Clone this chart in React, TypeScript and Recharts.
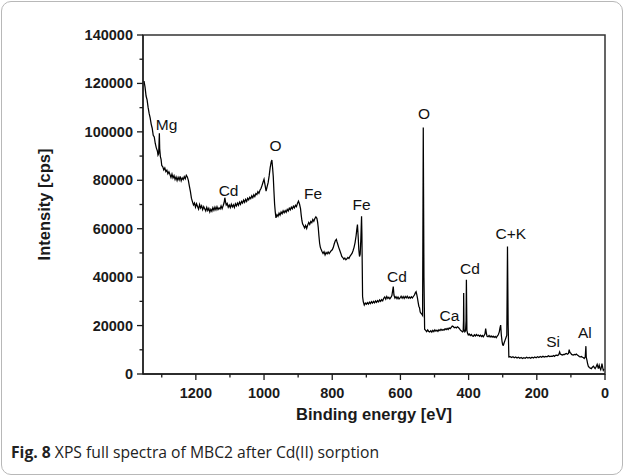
import React from 'react';
import { ComposedChart, Line, Scatter, XAxis, YAxis, ReferenceArea } from 'recharts';

// XPS survey spectrum of MBC2 after Cd(II) sorption: [binding energy (eV), intensity (cps)]
const mgRegion: [number, number][] = [
  [1352, 121000], [1349, 118500], [1346, 114800], [1343, 113200], [1340, 110100], [1337, 107600],
  [1334, 105800], [1331, 103200], [1328, 101500], [1325, 98600], [1322, 97900], [1319, 95200],
  [1316, 93400], [1313, 92200], [1311, 90400], [1309, 91000], [1307, 99400], [1306, 93000],
  [1304, 89800], [1302, 88600], [1300, 86100], [1297, 85600], [1294, 84300], [1291, 85100],
  [1288, 83600], [1285, 84200], [1282, 82700], [1279, 83500], [1276, 82400], [1273, 81200],
  [1270, 82600], [1267, 81000], [1264, 81900], [1261, 80300], [1258, 81400], [1255, 79900],
  [1252, 81200], [1249, 80100], [1246, 81600], [1243, 79800], [1240, 81000], [1237, 80300],
  [1234, 81500], [1231, 80600], [1228, 82100], [1225, 81400], [1222, 80000],
];

const cdMnnRegion: [number, number][] = [
  [1219, 77600], [1216, 75400], [1213, 72600], [1210, 71200], [1207, 69800], [1204, 70600],
  [1201, 68900], [1198, 70300], [1195, 69200], [1192, 68100], [1189, 70000], [1186, 68600],
  [1183, 69500], [1180, 67900], [1177, 69100], [1174, 68200], [1171, 67300], [1168, 68800],
  [1165, 67500], [1162, 68400], [1159, 66900], [1156, 68000], [1153, 67200], [1150, 68700],
  [1147, 67600], [1144, 68900], [1141, 67800], [1138, 69100], [1135, 67900], [1132, 68600],
  [1129, 68100], [1126, 69400], [1123, 68300], [1120, 69500], [1117, 70800], [1115, 72800],
  [1113, 71200], [1111, 69800], [1108, 70400], [1105, 68900], [1102, 69800],
];

const oAugerRegion: [number, number][] = [
  [1099, 68700], [1096, 70100], [1093, 69000], [1090, 69900], [1087, 68800], [1084, 70300],
  [1081, 69400], [1078, 70600], [1075, 69700], [1072, 71000], [1069, 70100], [1066, 71300],
  [1063, 70600], [1060, 71800], [1057, 70900], [1054, 72100], [1051, 71300], [1048, 72600],
  [1045, 71900], [1042, 73000], [1039, 72400], [1036, 73600], [1033, 72800], [1030, 74000],
  [1027, 73300], [1024, 74500], [1021, 74100], [1018, 75300], [1015, 74600], [1012, 75900],
  [1009, 76600], [1006, 77800], [1003, 79200], [1000, 80400], [997, 78000], [994, 75500],
  [991, 77400], [988, 79000], [985, 81800], [982, 85200], [979, 87600], [977, 88400],
  [975, 85300], [973, 81700], [971, 75600], [969, 70100], [967, 66800], [965, 64500],
  [962, 65800], [959, 65100], [956, 66400], [953, 65600], [950, 66900], [947, 66200],
  [944, 67400], [941, 66600], [938, 67500], [935, 66800], [932, 68000], [929, 67300],
  [926, 68500], [923, 67800], [920, 68900], [917, 68200], [914, 69300], [911, 68600],
  [908, 69700], [905, 69100], [902, 70400], [899, 71400], [896, 70200],
];

const feRegion: [number, number][] = [
  [893, 68300], [891, 65600], [889, 63400], [887, 62000], [884, 61200], [881, 60300],
  [878, 61300], [875, 60100], [872, 61500], [869, 62600], [866, 61800], [863, 63000],
  [860, 62500], [857, 63800], [854, 63100], [851, 64200], [848, 64900], [845, 64300],
  [843, 62800], [841, 60500], [839, 57000], [837, 54000], [835, 52400], [833, 51600],
  [830, 50600], [827, 49800], [824, 50500], [821, 49200], [818, 50200], [815, 49600],
  [812, 50400], [809, 49700], [806, 50300], [803, 50900], [800, 51300], [797, 52200],
  [794, 53800], [791, 55000], [788, 55600], [786, 54600], [784, 53700], [781, 52300],
  [778, 51100], [775, 49900], [772, 48600], [769, 48100], [766, 47400], [763, 47900],
  [760, 47200], [757, 47600], [754, 48100], [751, 47700], [748, 48600], [745, 49200],
  [742, 49800], [739, 50900], [736, 52300], [733, 54300], [730, 57100], [728, 59600],
  [726, 61700], [724, 57000], [722, 51300], [720, 48500], [718, 49500], [716, 56000],
  [714, 65100], [713, 58000], [712, 45000], [711, 32000], [709, 29900],
];

const cdMidRegion: [number, number][] = [
  [706, 28500], [703, 29300], [700, 28800], [697, 29500], [694, 28900], [691, 29700],
  [688, 29100], [685, 29900], [682, 29300], [679, 30000], [676, 29400], [673, 30200],
  [670, 29600], [667, 30300], [664, 29800], [661, 30600], [658, 30000], [655, 30700],
  [652, 30200], [649, 31300], [646, 31800], [643, 30900], [640, 32000], [637, 31200],
  [634, 31700], [631, 31000], [628, 31600], [625, 32400], [622, 35200], [621, 36100],
  [619, 32600], [616, 31300], [613, 31900], [610, 31100], [607, 31800], [604, 31000],
  [601, 31400], [598, 32100], [595, 31300], [592, 32000], [589, 31200], [586, 32000],
  [583, 31400], [580, 32100], [577, 31300], [574, 31800], [571, 31300], [568, 31900],
  [565, 31400], [562, 32000], [559, 32600], [556, 33600], [554, 34000], [552, 32800],
  [550, 31300], [548, 29600], [546, 28000], [544, 27400], [542, 25600], [540, 25100],
  [537, 24700], [535, 24200],
];

const o1sRegion: [number, number][] = [
  [533, 101800], [531, 40000], [529, 18500], [526, 18000], [523, 17500], [520, 18200],
  [517, 17600], [514, 17400], [511, 17900], [508, 17300], [505, 18000], [502, 17500],
  [499, 18200], [496, 17700], [493, 18100], [490, 17600], [487, 18300], [484, 17900],
  [481, 18500], [478, 18000], [475, 18400], [472, 18100], [469, 18700], [466, 18300],
  [463, 18800], [460, 18400], [457, 19000], [454, 18700], [451, 19300], [448, 19800],
  [445, 19600], [442, 19100], [439, 19300], [436, 19000], [433, 19500], [430, 19200],
  [427, 18700], [424, 18100], [421, 17800], [418, 17400],
];

const cd3dRegion: [number, number][] = [
  [416, 17600], [415, 22000], [414.5, 33400], [413.5, 18500], [411, 17400], [409, 17800],
  [407.5, 22000], [406.5, 38900], [405, 18000], [403, 16800], [401, 16100], [398, 16500],
  [395, 15900], [392, 16300], [389, 15700], [386, 15600], [383, 16200], [380, 15700],
  [377, 16300], [374, 15800], [371, 16100], [368, 15600], [365, 16000], [362, 15500],
  [359, 15900], [357, 15400], [354, 16000], [352, 16600], [350, 18800], [348, 16900],
  [346, 15600], [343, 15400], [340, 15900], [337, 15300], [334, 15700], [331, 15200],
  [328, 15600], [325, 15100], [322, 15500], [319, 15000], [316, 15600], [313, 16200],
  [310, 17400], [308, 19000], [306, 20200], [304, 16000], [302, 13500], [300, 12000],
  [298, 11900], [296, 12800], [293, 14000], [290, 15200], [288, 16000],
];

const lowRegion: [number, number][] = [
  [286, 52700], [284, 20000], [282, 7050], [278, 7200], [274, 6800], [270, 7100],
  [266, 6700], [262, 7000], [258, 6600], [254, 6900], [250, 6500], [246, 6800],
  [242, 6400], [238, 6700], [234, 6500], [230, 6900], [226, 6600], [222, 6800],
  [218, 6500], [214, 6900], [210, 6600], [206, 7000], [202, 6700], [198, 7100],
  [194, 6800], [190, 7200], [186, 6900], [182, 7300], [178, 7000], [174, 7300],
  [170, 7100], [166, 7500], [162, 7200], [158, 7400], [154, 7300], [151, 7600],
  [148, 7300], [145, 7700], [142, 7800], [139, 7600], [136, 7900], [133, 9100],
  [131, 8200], [128, 8000], [125, 7800], [122, 8100], [119, 8000], [116, 8300],
  [113, 8500], [110, 8200], [107, 8500], [105, 10100], [103, 8900], [101, 8700],
  [98, 8100], [95, 7900], [93, 7800], [90, 8100], [87, 7900], [84, 8200],
  [81, 7800], [78, 7500], [75, 7200], [72, 7050], [69, 7200], [66, 6900],
  [63, 6700], [61, 6400], [58, 7000], [56, 11500], [55, 7000], [53, 5700],
  [51, 4300], [49, 3200], [46, 2700], [43, 2400], [40, 2200], [37, 2800],
  [34, 3200], [31, 2600], [29, 2200], [26, 3000], [23, 4000], [21, 3000],
  [19.5, 2200], [17, 3600], [15, 2600], [12.5, 1800], [10, 3200], [9, 4300],
  [7, 2800], [5, 1500], [3, 2000],
];

// Peak assignments: [label, energy anchor (eV), intensity anchor (cps)]
const peakLabels: [string, number, number][] = [
  ['Mg', 1286, 100700],
  ['Cd', 1104, 73700],
  ['O', 966, 92000],
  ['Fe', 856, 72100],
  ['Fe', 714, 67700],
  ['O', 531, 105300],
  ['Cd', 610, 37800],
  ['Ca', 456, 21700],
  ['Cd', 396, 41400],
  ['C+K', 276, 55900],
  ['Si', 152, 11300],
  ['Al', 59, 14800],
];

const xTicks = [0, 100, 200, 300, 400, 500, 600, 700, 800, 900, 1000, 1100, 1200, 1300];
const yTicks = [
  0, 10000, 20000, 30000, 40000, 50000, 60000, 70000,
  80000, 90000, 100000, 110000, 120000, 130000, 140000,
];

const AXIS_FONT = "'Liberation Sans', Arial, Helvetica, sans-serif";
const CAPTION_FONT = "'Open Sans', 'Noto Sans', sans-serif";
const INK = '#1a1a1a';

const spectrum = [
  ...mgRegion, ...cdMnnRegion, ...oAugerRegion, ...feRegion,
  ...cdMidRegion, ...o1sRegion, ...cd3dRegion, ...lowRegion,
].map(([e, v]) => ({ e, v }));

const labelRows = peakLabels.map(([text, e, v]) => ({ text, e, v }));

function XTick(props: any) {
  const { x, y, payload } = props;
  const major = payload.value % 200 === 0;
  return (
    <g>
      <line x1={x} x2={x} y1={y} y2={y + (major ? 6 : 3.5)} stroke={INK} strokeWidth={1.3} />
      {major && (
        <text x={x} y={y + 24} textAnchor="middle" fontSize={14.5} fontWeight="bold"
          fill={INK} fontFamily={AXIS_FONT}>
          {payload.value}
        </text>
      )}
    </g>
  );
}

function YTick(props: any) {
  const { x, y, payload } = props;
  const major = payload.value % 20000 === 0;
  return (
    <g>
      <line x1={x} x2={x - (major ? 6 : 3.5)} y1={y} y2={y} stroke={INK} strokeWidth={1.3} />
      {major && (
        <text x={x - 10} y={y + 5} textAnchor="end" fontSize={14.5} fontWeight="bold"
          fill={INK} fontFamily={AXIS_FONT}>
          {payload.value}
        </text>
      )}
    </g>
  );
}

function XTitle(props: any) {
  const vb = props.viewBox;
  return (
    <text x={vb.x + vb.width / 2} y={vb.y + 46} textAnchor="middle" fontSize={16.5}
      fontWeight="bold" fill={INK} fontFamily={AXIS_FONT}>
      Binding energy [eV]
    </text>
  );
}

function YTitle(props: any) {
  const vb = props.viewBox;
  const cx = 44;
  const cy = vb.y + vb.height / 2;
  return (
    <text x={cx} y={cy} transform={`rotate(-90 ${cx} ${cy})`} textAnchor="middle"
      dominantBaseline="central" fontSize={16.5} fontWeight="bold" fill={INK}
      fontFamily={AXIS_FONT}>
      Intensity [cps]
    </text>
  );
}

function PeakLabel(props: any) {
  const { cx, cy, payload } = props;
  return (
    <text x={cx} y={cy} textAnchor="middle" fontSize={15.5} fill="#111" fontFamily={AXIS_FONT}>
      {payload.text}
    </text>
  );
}

export default function App() {
  return (
    <div style={{ position: 'absolute', left: 0, top: 0, width: 624, height: 476, background: '#fff' }}>
      <ComposedChart
        width={624}
        height={440}
        margin={{ top: 35, right: 19, bottom: 0, left: 0 }}
      >
        <XAxis
          dataKey="e"
          type="number"
          domain={[0, 1355]}
          reversed
          allowDataOverflow
          ticks={xTicks}
          interval={0}
          tick={<XTick />}
          tickLine={false}
          tickSize={0}
          tickMargin={0}
          height={66}
          axisLine={{ stroke: INK, strokeWidth: 1.3 }}
          label={<XTitle />}
        />
        <YAxis
          type="number"
          domain={[0, 140000]}
          allowDataOverflow
          ticks={yTicks}
          interval={0}
          tick={<YTick />}
          tickLine={false}
          tickSize={0}
          tickMargin={0}
          width={143}
          axisLine={{ stroke: INK, strokeWidth: 1.3 }}
          label={<YTitle />}
        />
        <ReferenceArea
          x1={0}
          x2={1355}
          y1={0}
          y2={140000}
          fill="none"
          stroke="#333"
          strokeWidth={1.5}
          ifOverflow="visible"
        />
        <Line
          data={spectrum}
          dataKey="v"
          type="linear"
          stroke="#000"
          strokeWidth={1.25}
          dot={false}
          activeDot={false}
          isAnimationActive={false}
        />
        <Scatter
          data={labelRows}
          dataKey="v"
          shape={<PeakLabel />}
          isAnimationActive={false}
        />
      </ComposedChart>
      <svg width={624} height={40} style={{ position: 'absolute', left: 0, top: 436 }}>
        <text x={11} y={22} fontSize={15.7} fill="#222" fontFamily={CAPTION_FONT}>
          <tspan fontWeight="bold">Fig. 8</tspan>
          <tspan> XPS full spectra of MBC2 after Cd(II) sorption</tspan>
        </text>
      </svg>
      <div
        style={{
          position: 'absolute',
          left: 1,
          top: 1,
          width: 622,
          height: 474,
          border: '1.5px solid #b8b8b8',
          borderRadius: 10,
          boxSizing: 'border-box',
          pointerEvents: 'none',
        }}
      />
    </div>
  );
}
